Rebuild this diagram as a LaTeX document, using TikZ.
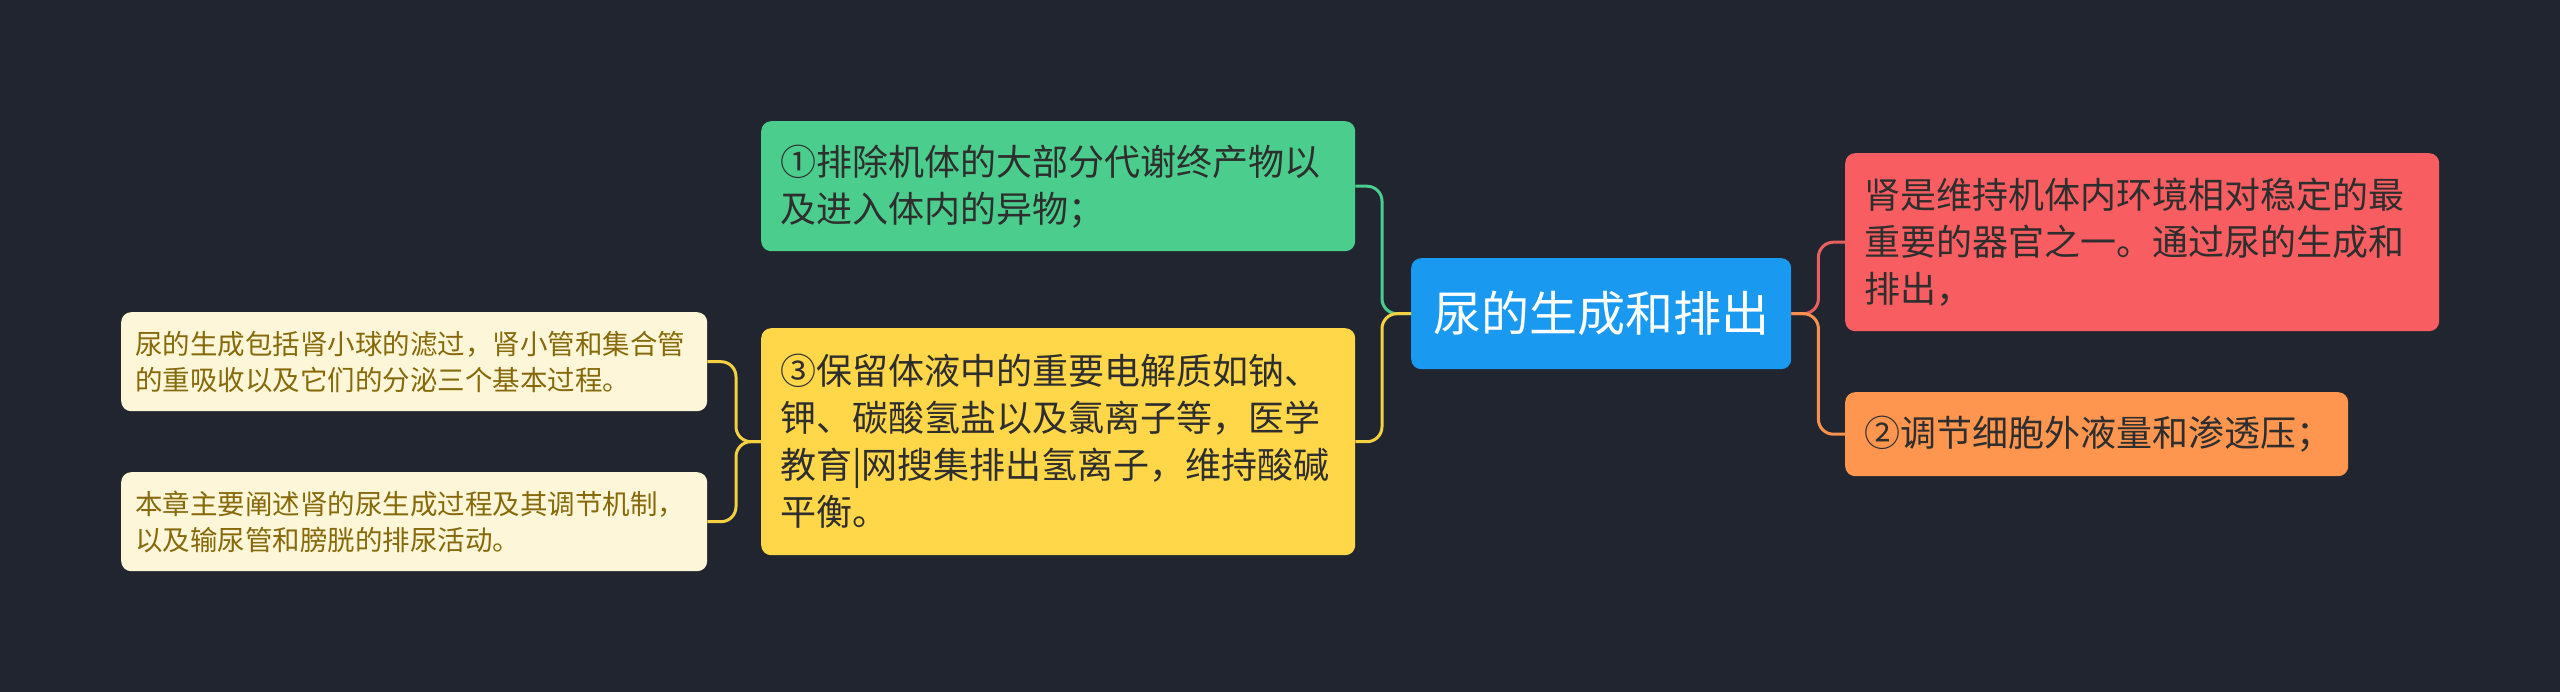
\documentclass[tikz,border=0pt]{standalone}
\usepackage{fontspec}
\setmainfont{Noto Sans CJK SC}
\definecolor{bg}{HTML}{21252F}
\definecolor{cgreen}{HTML}{4BCD8D}
\definecolor{cyellow}{HTML}{FFD748}
\definecolor{ccream}{HTML}{FEF6D8}
\definecolor{ccreamtext}{HTML}{86690A}
\definecolor{cred}{HTML}{F85E61}
\definecolor{corange}{HTML}{FF9650}
\definecolor{cblue}{HTML}{1A99F0}
\definecolor{ctext}{HTML}{2E2E2E}
\definecolor{lgreen}{HTML}{4BCD8D}
\definecolor{lyellow}{HTML}{F5D142}
\definecolor{lred}{HTML}{E8605F}
\definecolor{lorange}{HTML}{F8914D}
\tikzset{
  box/.style={rounded corners=10pt, anchor=north west, align=left, inner ysep=0pt, text=ctext},
  bigtxt/.style={font=\fontsize{36}{47}\selectfont, inner xsep=19pt},
  smalltxt/.style={font=\fontsize{27.5}{36}\selectfont, inner xsep=14pt, text=ccreamtext, fill=ccream},
  conn/.style={line width=3pt, rounded corners=15pt}
}
\begin{document}
\begin{tikzpicture}[x=1pt,y=-1pt]
\fill[bg] (0,0) rectangle (2560,692);
\useasboundingbox (0,0) rectangle (2560,692);

\node[box, fill=cblue, text=white, font=\fontsize{48}{56}\selectfont, inner xsep=22pt,
  minimum width=380, minimum height=111, align=center] (center) at (1411,258) {尿的生成和排出};

\node[box, bigtxt, fill=cgreen, minimum width=594, minimum height=130, text width=556] (green) at (761,121)
  {①排除机体的大部分代谢终产物以\\及进入体内的异物；};

\node[box, bigtxt, fill=cyellow, minimum width=594, minimum height=227, text width=556] (yellow) at (761,328)
  {③保留体液中的重要电解质如钠、\\钾、碳酸氢盐以及氯离子等，医学\\教育|网搜集排出氢离子，维持酸碱\\平衡。};

\node[box, smalltxt, minimum width=586, minimum height=99, text width=558] (creamA) at (121,312)
  {尿的生成包括肾小球的滤过，肾小管和集合管\\的重吸收以及它们的分泌三个基本过程。};

\node[box, smalltxt, minimum width=586, minimum height=99, text width=558] (creamB) at (121,472)
  {本章主要阐述肾的尿生成过程及其调节机制，\\以及输尿管和膀胱的排尿活动。};

\node[box, bigtxt, fill=cred, minimum width=594, minimum height=178, text width=556] (red) at (1845,153)
  {肾是维持机体内环境相对稳定的最\\重要的器官之一。通过尿的生成和\\排出，};

\node[box, bigtxt, fill=corange, minimum width=503, minimum height=84, text width=465] (orange) at (1845,392)
  {②调节细胞外液量和渗透压；};

% connectors
\draw[conn, lred] (center.east) -- ++(27,0) |- (red.west);
\draw[conn, lorange] (center.east) -- ++(27,0) |- (orange.west);
\draw[conn, lgreen] (center.west) -- ++(-29,0) |- (green.east);
\draw[conn, lyellow] (center.west) -- ++(-29,0) |- (yellow.east);
\draw[conn, lyellow] (yellow.west) -- ++(-25,0) |- (creamA.east);
\draw[conn, lyellow] (yellow.west) -- ++(-25,0) |- (creamB.east);
\end{tikzpicture}
\end{document}
